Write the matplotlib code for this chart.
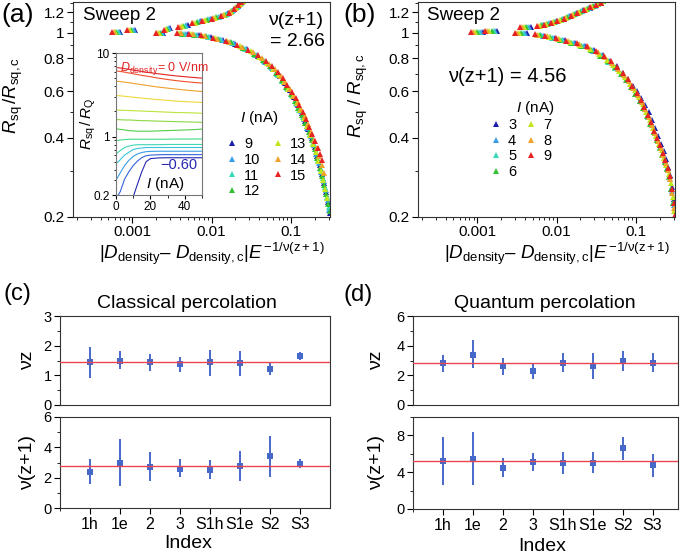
"""Scaling collapse of R_sq across the transition (a, b) and the fitted
critical exponents for the classical / quantum percolation pictures (c, d)."""

import matplotlib
matplotlib.use("Agg")
import matplotlib.pyplot as plt
from matplotlib.ticker import LogLocator, MultipleLocator, NullFormatter

W, H = 685, 553          # output size in px (dpi 100)
OUT = "out.png"

plt.rcParams.update({
    "font.family": ["Liberation Sans", "DejaVu Sans"],
    "mathtext.fontset": "custom",
    "mathtext.rm": "Liberation Sans",
    "mathtext.it": "Liberation Sans:italic",
    "mathtext.bf": "Liberation Sans:bold",
    "axes.linewidth": 0.8,
    "axes.edgecolor": "#333333",
    "xtick.direction": "out",
    "ytick.direction": "out",
})

# palette: one colour per current, blue (low) -> red (high)
CURRENT_COLORS = ["#1c1ca8", "#3a9de6", "#3ad8b8", "#34c234", "#c2e61e", "#f0a32c", "#e62222"]
INSET_COLORS = ["#e02424", "#f0502c", "#f0a030", "#ecd83a", "#bce23c", "#8cd840", "#52cc4a",
                "#42dc84", "#3ed6b6", "#38c4e0", "#3a9ee8", "#3464dc", "#2626b4"]
BLUE = "#4668c8"
FIT_RED = "#ea4650"

# ---------------------------------------------------------------- data (a)
A_CURRENTS = [9, 10, 11, 12, 13, 14, 15]   # I (nA)
A_NU = "2.66"
# insulating-side branch (R above R_c), one list per current
A_UP_X = [
    [0.00071, 0.00109, 0.0030, 0.0050, 0.0074, 0.0099, 0.0130, 0.0163, 0.0190, 0.0217, 0.0242, 0.0262],
    [0.000685, 0.00105, 0.00292, 0.0048, 0.0071, 0.0095, 0.0125, 0.0158, 0.0186, 0.0213, 0.0238, 0.0258],
    [0.00066, 0.00101, 0.00284, 0.0046, 0.0068, 0.0091, 0.0120, 0.0153, 0.0182, 0.0209, 0.0234, 0.0254],
    [0.000635, 0.00097, 0.00276, 0.0044, 0.0065, 0.0087, 0.0115, 0.0148, 0.0178, 0.0205, 0.0230, 0.0250],
    [0.00061, 0.00093, 0.00268, 0.0042, 0.0062, 0.0083, 0.0110, 0.0143, 0.0174, 0.0201, 0.0226, 0.0246],
    [0.000585, 0.00089, 0.0026, 0.0040, 0.0059, 0.0079, 0.0105, 0.0138, 0.0170, 0.0197, 0.0222, 0.0242],
    [0.00056, 0.00086, 0.00252, 0.0038, 0.0056, 0.0075, 0.0100, 0.0132, 0.0165, 0.0193, 0.0218, 0.0238],
]
A_UP_Y = [
    [1.012, 1.027, 1.045, 1.070, 1.109, 1.133, 1.157, 1.189, 1.227, 1.270, 1.312, 1.345],
    [1.012, 1.027, 1.042, 1.067, 1.105, 1.129, 1.153, 1.182, 1.220, 1.263, 1.305, 1.338],
    [1.012, 1.027, 1.039, 1.064, 1.102, 1.126, 1.149, 1.178, 1.214, 1.256, 1.298, 1.332],
    [1.012, 1.027, 1.036, 1.061, 1.098, 1.122, 1.146, 1.173, 1.208, 1.250, 1.292, 1.325],
    [1.012, 1.027, 1.033, 1.058, 1.094, 1.118, 1.142, 1.169, 1.203, 1.244, 1.285, 1.319],
    [1.012, 1.027, 1.030, 1.055, 1.090, 1.114, 1.138, 1.165, 1.198, 1.238, 1.279, 1.312],
    [1.012, 1.027, 1.027, 1.052, 1.086, 1.110, 1.134, 1.159, 1.192, 1.232, 1.272, 1.305],
]
# metallic-side branch (R below R_c)
A_LO_X = [
    [0.00245, 0.005, 0.007, 0.0098, 0.014, 0.02, 0.028, 0.038, 0.049, 0.06, 0.072, 0.084, 0.096, 0.109,
     0.122, 0.136, 0.151, 0.166, 0.182, 0.198, 0.214, 0.23, 0.246, 0.262, 0.278, 0.294, 0.31],
    [0.00238, 0.0047, 0.0066, 0.0094, 0.0134, 0.019, 0.027, 0.037, 0.047, 0.058, 0.069, 0.081, 0.093, 0.105,
     0.118, 0.132, 0.146, 0.161, 0.177, 0.193, 0.209, 0.225, 0.241, 0.257, 0.273, 0.289, 0.305],
    [0.0023, 0.0045, 0.0063, 0.009, 0.0128, 0.0183, 0.026, 0.035, 0.046, 0.056, 0.067, 0.078, 0.090, 0.102,
     0.115, 0.128, 0.142, 0.157, 0.172, 0.188, 0.204, 0.220, 0.236, 0.252, 0.268, 0.284, 0.300],
    [0.00222, 0.0043, 0.006, 0.0086, 0.0122, 0.0175, 0.025, 0.034, 0.044, 0.054, 0.065, 0.076, 0.087, 0.099,
     0.111, 0.124, 0.138, 0.152, 0.167, 0.182, 0.198, 0.214, 0.230, 0.246, 0.262, 0.278, 0.294, 0.308],
    [0.00215, 0.0039, 0.0055, 0.0078, 0.011, 0.0158, 0.0225, 0.031, 0.040, 0.050, 0.060, 0.071, 0.082, 0.093,
     0.105, 0.118, 0.131, 0.145, 0.160, 0.175, 0.190, 0.206, 0.222, 0.238, 0.254, 0.27, 0.285],
    [0.00207, 0.0041, 0.0058, 0.0082, 0.0117, 0.0167, 0.024, 0.033, 0.043, 0.053, 0.063, 0.074, 0.085, 0.096,
     0.108, 0.121, 0.135, 0.149, 0.164, 0.179, 0.195, 0.211, 0.227, 0.243, 0.258],
    [0.0020, 0.0037, 0.0052, 0.0074, 0.0105, 0.015, 0.021, 0.029, 0.038, 0.048, 0.058, 0.068, 0.079, 0.090,
     0.102, 0.115, 0.128, 0.142, 0.156, 0.171, 0.186, 0.202, 0.218, 0.232, 0.245],
]
A_LO_Y = [
    [1.0, 0.99, 0.98, 0.964, 0.94, 0.91, 0.865, 0.818, 0.772, 0.732, 0.688, 0.647, 0.607, 0.57,
     0.534, 0.498, 0.464, 0.432, 0.4, 0.37, 0.342, 0.316, 0.292, 0.27, 0.249, 0.228, 0.207],
    [1.0, 0.992, 0.982, 0.966, 0.943, 0.913, 0.868, 0.822, 0.777, 0.737, 0.695, 0.652, 0.612, 0.575,
     0.538, 0.503, 0.47, 0.437, 0.405, 0.375, 0.347, 0.321, 0.297, 0.275, 0.253, 0.232, 0.212],
    [1.0, 0.993, 0.984, 0.968, 0.946, 0.917, 0.872, 0.826, 0.78, 0.742, 0.7, 0.658, 0.617, 0.58,
     0.543, 0.51, 0.478, 0.445, 0.413, 0.383, 0.354, 0.328, 0.303, 0.281, 0.259, 0.238, 0.218],
    [1.0, 0.994, 0.985, 0.97, 0.948, 0.92, 0.875, 0.83, 0.787, 0.748, 0.705, 0.663, 0.625, 0.587,
     0.552, 0.518, 0.486, 0.455, 0.422, 0.392, 0.362, 0.335, 0.308, 0.287, 0.265, 0.245, 0.225, 0.21],
    [1.0, 0.996, 0.988, 0.975, 0.955, 0.929, 0.889, 0.85, 0.808, 0.77, 0.73, 0.69, 0.65, 0.612,
     0.575, 0.54, 0.508, 0.475, 0.443, 0.41, 0.38, 0.352, 0.325, 0.300, 0.277, 0.255, 0.236],
    [1.0, 0.995, 0.987, 0.973, 0.952, 0.925, 0.885, 0.843, 0.803, 0.765, 0.728, 0.688, 0.650, 0.612,
     0.578, 0.545, 0.512, 0.482, 0.450, 0.420, 0.392, 0.365, 0.340, 0.315, 0.293],
    [1.0, 0.997, 0.99, 0.979, 0.959, 0.935, 0.898, 0.861, 0.822, 0.785, 0.748, 0.71, 0.672, 0.635,
     0.598, 0.565, 0.533, 0.502, 0.472, 0.441, 0.413, 0.387, 0.365, 0.346, 0.330],
]

# inset of (a): R_sq/R_Q vs I for D_density = 0 ... -0.60 V/nm
INSET_I = [0, 2.5, 5, 7.5, 10, 12.5, 15, 17.5, 20, 25, 30, 35, 40, 45, 50]
INSET_R = [
    [6.7, 6.62, 6.5, 6.38, 6.25, 6.12, 6.02, 5.9, 5.8, 5.63, 5.46, 5.32, 5.2, 5.1, 5.0],
    [6.1, 6.02, 5.9, 5.77, 5.65, 5.52, 5.4, 5.3, 5.2, 4.99, 4.82, 4.67, 4.55, 4.45, 4.37],
    [4.6, 4.55, 4.48, 4.41, 4.33, 4.25, 4.18, 4.1, 4.03, 3.9, 3.8, 3.7, 3.61, 3.53, 3.46],
    [3.1, 3.07, 3.04, 3.0, 2.96, 2.92, 2.89, 2.85, 2.82, 2.76, 2.71, 2.66, 2.62, 2.59, 2.56],
    [2.08, 2.07, 2.06, 2.05, 2.04, 2.03, 2.02, 2.01, 2.0, 1.98, 1.96, 1.94, 1.93, 1.92, 1.9],
    [1.6, 1.59, 1.58, 1.58, 1.57, 1.56, 1.55, 1.55, 1.54, 1.53, 1.52, 1.51, 1.5, 1.49, 1.48],
    [1.24, 1.22, 1.2, 1.18, 1.17, 1.16, 1.16, 1.16, 1.16, 1.17, 1.18, 1.19, 1.2, 1.21, 1.23],
    [0.89, 0.91, 0.92, 0.93, 0.93, 0.93, 0.93, 0.93, 0.93, 0.93, 0.93, 0.935, 0.935, 0.935, 0.936],
    [0.62, 0.68, 0.74, 0.77, 0.79, 0.80, 0.80, 0.80, 0.80, 0.80, 0.805, 0.805, 0.805, 0.805, 0.805],
    [0.47, 0.53, 0.6, 0.65, 0.7, 0.72, 0.73, 0.74, 0.74, 0.74, 0.74, 0.74, 0.74, 0.74, 0.74],
    [0.3, 0.37, 0.45, 0.52, 0.58, 0.62, 0.645, 0.66, 0.665, 0.668, 0.668, 0.668, 0.668, 0.668, 0.668],
    [0.18, 0.22, 0.31, 0.38, 0.45, 0.51, 0.56, 0.59, 0.6, 0.607, 0.608, 0.608, 0.608, 0.608, 0.608],
    [0.08, 0.1, 0.12, 0.15, 0.19, 0.27, 0.38, 0.5, 0.545, 0.556, 0.558, 0.558, 0.558, 0.558, 0.558],
]

# ---------------------------------------------------------------- data (b)
B_CURRENTS = [3, 4, 5, 6, 7, 8, 9]
B_NU = "4.56"
B_UP_X = [
    [0.00119, 0.00178, 0.0047, 0.0069, 0.0084, 0.0102, 0.0124, 0.0148, 0.018, 0.0216, 0.0262, 0.0312, 0.0358, 0.0408],
    [0.00113, 0.0017, 0.0045, 0.0067, 0.0081, 0.0099, 0.012, 0.0144, 0.0175, 0.021, 0.0255, 0.0304, 0.035, 0.04],
    [0.00107, 0.00161, 0.0043, 0.0065, 0.0079, 0.0096, 0.0117, 0.014, 0.017, 0.0204, 0.0248, 0.0296, 0.0342, 0.0392],
    [0.00101, 0.00152, 0.0041, 0.0063, 0.0076, 0.0093, 0.0113, 0.0136, 0.0165, 0.0198, 0.0241, 0.0288, 0.0334, 0.0384],
    [0.00095, 0.00143, 0.0039, 0.0061, 0.0074, 0.009, 0.0109, 0.0132, 0.016, 0.0192, 0.0234, 0.028, 0.0326, 0.0376],
    [0.00089, 0.00134, 0.0037, 0.0059, 0.0071, 0.0087, 0.0105, 0.0128, 0.0155, 0.0186, 0.0227, 0.0272, 0.0318, 0.0368],
    [0.00083, 0.00126, 0.0035, 0.0057, 0.0069, 0.0084, 0.0102, 0.0124, 0.015, 0.018, 0.022, 0.0265, 0.031, 0.036],
]
B_UP_Y = [
    [1.006, 1.018, 1.049, 1.074, 1.090, 1.110, 1.134, 1.16, 1.19, 1.217, 1.247, 1.274, 1.303, 1.342],
    [1.006, 1.018, 1.049, 1.071, 1.087, 1.107, 1.130, 1.156, 1.186, 1.213, 1.243, 1.27, 1.298, 1.336],
    [1.006, 1.018, 1.049, 1.069, 1.084, 1.104, 1.127, 1.151, 1.181, 1.209, 1.239, 1.266, 1.293, 1.33],
    [1.006, 1.018, 1.049, 1.067, 1.081, 1.10, 1.122, 1.147, 1.177, 1.205, 1.234, 1.261, 1.287, 1.323],
    [1.006, 1.018, 1.049, 1.065, 1.079, 1.097, 1.118, 1.143, 1.172, 1.20, 1.23, 1.257, 1.282, 1.317],
    [1.006, 1.018, 1.049, 1.064, 1.076, 1.093, 1.113, 1.139, 1.167, 1.195, 1.225, 1.253, 1.277, 1.31],
    [1.006, 1.018, 1.049, 1.063, 1.074, 1.090, 1.110, 1.134, 1.162, 1.19, 1.22, 1.249, 1.273, 1.304],
]
B_LO_X = [
    [0.0042, 0.0070, 0.0095, 0.0127, 0.0172, 0.023, 0.030, 0.038, 0.047, 0.057, 0.068, 0.080, 0.092, 0.104,
     0.117, 0.131, 0.146, 0.161, 0.176, 0.192, 0.208, 0.224, 0.240, 0.256, 0.272, 0.288, 0.300],
    [0.0040, 0.0067, 0.0091, 0.0122, 0.0165, 0.022, 0.029, 0.037, 0.046, 0.056, 0.067, 0.078, 0.090, 0.102,
     0.115, 0.129, 0.143, 0.158, 0.173, 0.188, 0.204, 0.220, 0.236, 0.252, 0.268, 0.284, 0.300],
    [0.0038, 0.0064, 0.0087, 0.0117, 0.0158, 0.0212, 0.028, 0.036, 0.045, 0.055, 0.066, 0.077, 0.088, 0.100,
     0.113, 0.126, 0.140, 0.155, 0.170, 0.185, 0.200, 0.216, 0.232, 0.248, 0.264, 0.280, 0.296],
    [0.0036, 0.0061, 0.0083, 0.0112, 0.0152, 0.0205, 0.027, 0.035, 0.044, 0.054, 0.064, 0.075, 0.086, 0.098,
     0.111, 0.124, 0.138, 0.152, 0.167, 0.182, 0.198, 0.214, 0.230, 0.246, 0.262, 0.278, 0.294, 0.308],
    [0.0034, 0.0059, 0.008, 0.0108, 0.0146, 0.020, 0.026, 0.034, 0.043, 0.052, 0.062, 0.073, 0.084, 0.096,
     0.108, 0.121, 0.135, 0.149, 0.164, 0.179, 0.194, 0.210, 0.226, 0.242, 0.258, 0.274, 0.290, 0.305],
    [0.0032, 0.0056, 0.0076, 0.0103, 0.0139, 0.019, 0.025, 0.033, 0.041, 0.050, 0.060, 0.070, 0.081, 0.093,
     0.105, 0.118, 0.131, 0.145, 0.160, 0.175, 0.190, 0.206, 0.222, 0.238, 0.254, 0.270, 0.286, 0.302],
    [0.0030, 0.0053, 0.0072, 0.0098, 0.0132, 0.018, 0.024, 0.031, 0.039, 0.048, 0.058, 0.068, 0.079, 0.090,
     0.102, 0.115, 0.128, 0.142, 0.156, 0.171, 0.186, 0.202, 0.218, 0.234, 0.250, 0.266, 0.282, 0.298, 0.31],
]
B_LO_Y = [
    [0.997, 0.976, 0.957, 0.937, 0.917, 0.892, 0.86, 0.823, 0.785, 0.747, 0.706, 0.67, 0.63, 0.603,
     0.568, 0.534, 0.50, 0.466, 0.435, 0.405, 0.38, 0.356, 0.333, 0.31, 0.288, 0.26, 0.235],
    [0.997, 0.976, 0.957, 0.937, 0.915, 0.89, 0.856, 0.818, 0.776, 0.737, 0.697, 0.661, 0.624, 0.585,
     0.549, 0.514, 0.48, 0.447, 0.417, 0.39, 0.366, 0.343, 0.322, 0.302, 0.28, 0.251, 0.223],
    [0.997, 0.979, 0.96, 0.94, 0.918, 0.893, 0.86, 0.822, 0.775, 0.737, 0.697, 0.66, 0.624, 0.587,
     0.552, 0.517, 0.483, 0.451, 0.42, 0.392, 0.37, 0.345, 0.325, 0.306, 0.284, 0.255, 0.227],
    [0.997, 0.979, 0.962, 0.94, 0.918, 0.89, 0.86, 0.82, 0.78, 0.74, 0.70, 0.66, 0.624, 0.588,
     0.551, 0.517, 0.483, 0.452, 0.421, 0.393, 0.367, 0.345, 0.323, 0.304, 0.283, 0.256, 0.226, 0.202],
    [0.997, 0.982, 0.965, 0.944, 0.922, 0.897, 0.870, 0.833, 0.792, 0.756, 0.716, 0.678, 0.642, 0.605,
     0.57, 0.536, 0.5, 0.468, 0.436, 0.405, 0.38, 0.358, 0.334, 0.314, 0.292, 0.269, 0.238, 0.21],
    [0.997, 0.986, 0.972, 0.952, 0.931, 0.909, 0.882, 0.846, 0.809, 0.771, 0.73, 0.694, 0.658, 0.618,
     0.582, 0.547, 0.512, 0.479, 0.446, 0.416, 0.39, 0.366, 0.343, 0.322, 0.301, 0.278, 0.246, 0.217],
    [0.997, 0.988, 0.975, 0.955, 0.935, 0.914, 0.888, 0.855, 0.819, 0.78, 0.741, 0.704, 0.667, 0.631,
     0.593, 0.557, 0.523, 0.489, 0.457, 0.426, 0.398, 0.375, 0.351, 0.33, 0.308, 0.287, 0.256, 0.226, 0.203],
]

# shared axis ticks of (a)/(b)
R_TICKS = [0.2, 0.4, 0.6, 0.8, 1.0, 1.2]
R_TICK_LABELS = ["0.2", "0.4", "0.6", "0.8", "1", "1.2"]
R_MINOR = [0.3, 0.5, 0.7, 0.9, 1.1, 1.3]
X_TICKS = [0.001, 0.01, 0.1]
X_TICK_LABELS = ["0.001", "0.01", "0.1"]

# ---------------------------------------------------------------- data (c), (d)
INDEX_LABELS = ["1h", "1e", "2", "3", "S1h", "S1e", "S2", "S3"]
# classical percolation
C_NZ = [1.46, 1.49, 1.46, 1.38, 1.44, 1.40, 1.21, 1.65]
C_NZ_LO = [0.92, 1.21, 1.15, 1.12, 0.99, 0.98, 1.0, 1.52]
C_NZ_HI = [1.97, 1.81, 1.73, 1.63, 1.85, 1.82, 1.44, 1.80]
C_NZ_FIT = 1.45
C_NZ1 = [2.4, 3.0, 2.7, 2.6, 2.5, 2.8, 3.4, 2.9]
C_NZ1_LO = [1.6, 1.45, 1.75, 2.05, 1.9, 1.8, 2.05, 2.65]
C_NZ1_HI = [3.25, 4.55, 3.7, 3.2, 3.15, 3.75, 4.75, 3.25]
C_NZ1_FIT = 2.8
# quantum percolation
D_NZ = [2.8, 3.4, 2.65, 2.3, 2.85, 2.6, 3.0, 2.85]
D_NZ_LO = [2.2, 2.5, 2.05, 1.75, 2.25, 1.72, 2.3, 2.25]
D_NZ_HI = [3.35, 4.35, 3.2, 2.75, 3.5, 3.5, 3.65, 3.5]
D_NZ_FIT = 2.8
D_NZ1 = [5.2, 5.4, 4.5, 5.1, 5.0, 5.0, 6.6, 4.75]
D_NZ1_LO = [2.6, 2.6, 3.5, 4.15, 3.85, 3.95, 5.3, 3.5]
D_NZ1_HI = [7.8, 8.35, 5.5, 6.1, 6.2, 6.2, 7.85, 6.0]
D_NZ1_FIT = 5.25


def box(left, top, right, bottom):
    """pixel box -> figure-fraction rect"""
    return [left / W, 1 - bottom / H, (right - left) / W, (bottom - top) / H]


def ftext(x, y, s, **kw):
    fig.text(x / W, 1 - y / H, s, **kw)


def collapse_panel(ax, currents, up_x, up_y, lo_x, lo_y, ylabel):
    for k, cur in enumerate(currents):
        ax.plot(up_x[k] + lo_x[k], up_y[k] + lo_y[k], ls="none", marker="^",
                ms=3.8, mew=0, color=CURRENT_COLORS[k], label=str(cur))
    ax.set_xscale("log")
    ax.set_yscale("log")
    ax.set_xlim(1.8e-4, 0.31)
    ax.set_ylim(0.2, 1.31)
    ax.set_yticks(R_TICKS, R_TICK_LABELS)
    ax.set_yticks(R_MINOR, minor=True)
    ax.yaxis.set_minor_formatter(NullFormatter())
    ax.set_xticks(X_TICKS, X_TICK_LABELS)
    ax.xaxis.set_minor_locator(LogLocator(10, subs=range(2, 10), numticks=20))
    ax.xaxis.set_minor_formatter(NullFormatter())
    ax.tick_params(which="both", top=False, right=False, labelsize=11, pad=2)
    ax.tick_params(axis="x", pad=1.5)
    ax.tick_params(which="major", length=4)
    ax.tick_params(which="minor", length=2.5)
    ax.set_ylabel(ylabel, fontsize=13.5)
    ax.yaxis.set_label_coords(-0.187, 0.565)
    ax.set_xlabel(r"$|D_{\mathrm{density}}$– $D_{\mathrm{density,c}}|E^{\,\mathrm{-1/ν(z+1)}}$",
                  fontsize=13.5)
    ax.xaxis.set_label_coords(0.54, -0.108)


def exponent_axis(ax, vals, lo, hi, fit, ymax, step, minor, xmax):
    pos = list(range(1, len(vals) + 1))
    err = [[v - l for v, l in zip(vals, lo)], [h - v for v, h in zip(vals, hi)]]
    ax.errorbar(pos, vals, yerr=err, fmt="s", ms=4.3, mew=0, color=BLUE, ecolor=BLUE,
                elinewidth=1.4, capsize=2, capthick=1.1, zorder=3)
    ax.axhline(fit, color=FIT_RED, lw=1.0, zorder=4)
    ax.set_xlim(0, xmax)
    ax.set_ylim(0, ymax)
    ax.yaxis.set_major_locator(MultipleLocator(step))
    ax.yaxis.set_minor_locator(MultipleLocator(minor))
    ax.tick_params(which="both", top=False, right=False, labelsize=10.5, pad=2)
    ax.tick_params(which="major", length=4)
    ax.tick_params(which="minor", length=2.5)


fig = plt.figure(figsize=(W / 100, H / 100), dpi=100)

# ---------------------------------------------------------------- (a)
ax_a = fig.add_axes(box(73, 2, 330, 217))
collapse_panel(ax_a, A_CURRENTS, A_UP_X, A_UP_Y, A_LO_X, A_LO_Y,
               r"$R_{\mathrm{sq}}\,/R_{\mathrm{sq,c}}$")
ax_a.legend(ncol=2, frameon=False, fontsize=10.5, numpoints=1, handlelength=0.6,
            handletextpad=0.5, columnspacing=0.9, labelspacing=0.12, borderpad=0,
            borderaxespad=0, loc="upper left", bbox_to_anchor=(228 / W, 1 - 137 / H),
            bbox_transform=fig.transFigure)
ftext(259, 118, r"$I$ (nA)", fontsize=11, ha="center", va="center")
ftext(83, 15, "Sweep 2", fontsize=13.5, ha="left", va="center")
ftext(323, 20.5, "ν(z+1)", fontsize=14, ha="right", va="center")
ftext(325, 41.5, "= " + A_NU, fontsize=14, ha="right", va="center")

# inset: R_sq/R_Q vs I
ins = fig.add_axes(box(116, 53, 202, 195))
for k, r in enumerate(INSET_R):
    ins.plot(INSET_I, r, color=INSET_COLORS[k], lw=0.8)
ins.set_yscale("log")
ins.set_xlim(0, 50)
ins.set_ylim(0.2, 10)
ins.set_yticks([0.2, 1, 10], ["0.2", "1", "10"])
ins.yaxis.set_minor_formatter(NullFormatter())
ins.set_xticks([0, 20, 40])
ins.xaxis.set_minor_locator(MultipleLocator(10))
ins.tick_params(which="both", labelsize=8.5, pad=1.5)
ins.tick_params(which="major", length=3)
ins.tick_params(which="minor", length=1.8)
for s in ins.spines.values():
    s.set_color("#777777")
ins.set_ylabel(r"$R_{\mathrm{sq}}\,/\,R_{\mathrm{Q}}$", fontsize=11)
ins.yaxis.set_label_coords(-0.21, 0.5)
ins.text(0.05, 0.95, r"$D_{\mathrm{density}}$= 0 V/nm", transform=ins.transAxes,
         color="#e02424", fontsize=9, ha="left", va="top")
ins.text(0.95, 0.21, "−0.60", transform=ins.transAxes, color="#2626b4",
         fontsize=10.5, ha="right", va="center")
ins.text(0.57, 0.08, r"$I$ (nA)", transform=ins.transAxes, fontsize=11,
         ha="center", va="center")

# ---------------------------------------------------------------- (b)
ax_b = fig.add_axes(box(418, 2, 675, 217))
collapse_panel(ax_b, B_CURRENTS, B_UP_X, B_UP_Y, B_LO_X, B_LO_Y,
               r"$R_{\mathrm{sq}}\ /\ R_{\mathrm{sq,c}}$")
ax_b.legend(ncol=2, frameon=False, fontsize=10.5, numpoints=1, handlelength=0.6,
            handletextpad=0.5, columnspacing=0.75, labelspacing=0.12, borderpad=0,
            borderaxespad=0, loc="upper left", bbox_to_anchor=(492 / W, 1 - 118 / H),
            bbox_transform=fig.transFigure)
ftext(535, 108, r"$I$ (nA)", fontsize=11, ha="center", va="center")
ftext(427, 15, "Sweep 2", fontsize=13.5, ha="left", va="center")
ftext(507, 76, "ν(z+1) = " + B_NU, fontsize=14.5, ha="center", va="center")

# ---------------------------------------------------------------- (c)
c_top = fig.add_axes(box(60, 316, 330, 405))
c_bot = fig.add_axes(box(60, 417, 330, 508))
exponent_axis(c_top, C_NZ, C_NZ_LO, C_NZ_HI, C_NZ_FIT, 3, 1, 0.5, 9)
exponent_axis(c_bot, C_NZ1, C_NZ1_LO, C_NZ1_HI, C_NZ1_FIT, 6, 2, 1, 9)

# ---------------------------------------------------------------- (d)
d_top = fig.add_axes(box(413, 316, 678, 405))
d_bot = fig.add_axes(box(413, 417, 678, 509))
exponent_axis(d_top, D_NZ, D_NZ_LO, D_NZ_HI, D_NZ_FIT, 6, 2, 1, 8.85)
exponent_axis(d_bot, D_NZ1, D_NZ1_LO, D_NZ1_HI, D_NZ1_FIT, 10, 4, 2, 8.85)

for top, bot, lab_x in ((c_top, c_bot, -0.09), (d_top, d_bot, -0.106)):
    top.tick_params(axis="x", which="both", bottom=False, labelbottom=False)
    bot.set_xticks(range(1, len(INDEX_LABELS) + 1), INDEX_LABELS)
    bot.set_xticks([0], minor=True)
    bot.tick_params(axis="x", labelsize=11.5, pad=2.5)
    top.set_ylabel("νz", fontsize=14)
    bot.set_ylabel("ν(z+1)", fontsize=14)
    top.yaxis.set_label_coords(lab_x, 0.5)
    bot.yaxis.set_label_coords(lab_x, 0.5)

c_bot.set_xlabel("Index", fontsize=14)
c_bot.xaxis.set_label_coords(0.474, -0.30)
d_bot.set_xlabel("Index", fontsize=14)
d_bot.xaxis.set_label_coords(0.487, -0.31)

ftext(187, 303, "Classical percolation", fontsize=14, ha="center", va="center")
ftext(545, 303, "Quantum percolation", fontsize=14, ha="center", va="center")

# panel letters
ftext(18, 15, "(a)", fontsize=19, ha="center", va="center")
ftext(360, 15, "(b)", fontsize=19, ha="center", va="center")
ftext(17, 294, "(c)", fontsize=17, ha="center", va="center")
ftext(358, 295, "(d)", fontsize=17, ha="center", va="center")

fig.savefig(OUT, dpi=100, facecolor="white")
print(f"Saved: {OUT}")
